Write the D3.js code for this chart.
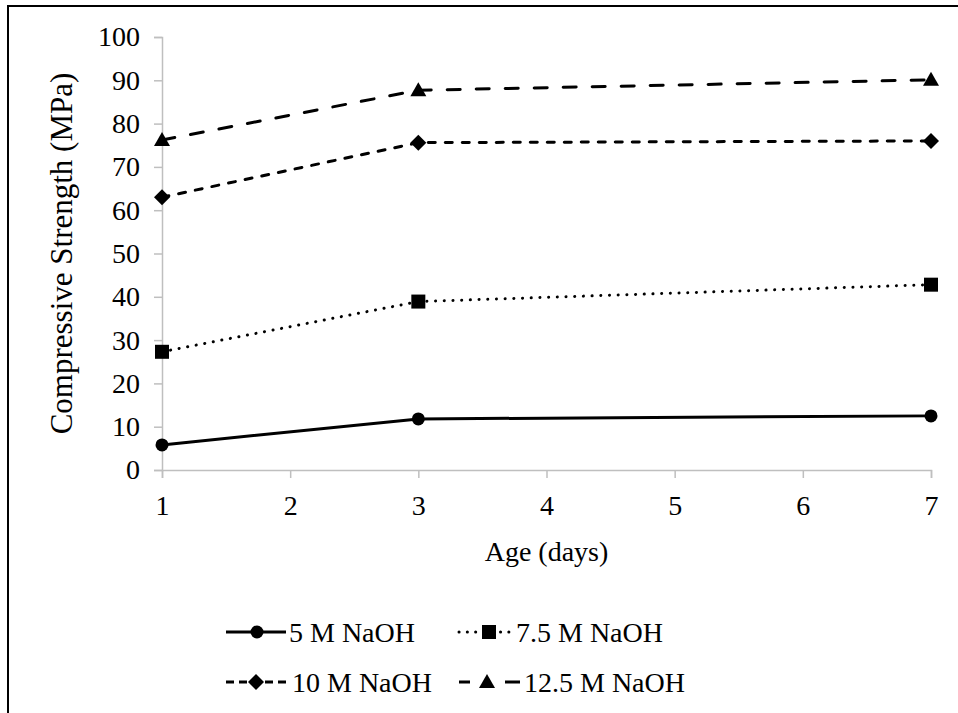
<!DOCTYPE html>
<html>
<head>
<meta charset="utf-8">
<script src="https://cdn.jsdelivr.net/npm/d3@7"></script>
<style>
  html, body { margin: 0; padding: 0; background: #fff; }
  svg { display: block; }
</style>
</head>
<body>
<svg id="chart" width="958" height="713"></svg>
<script>
const days = [1, 3, 7];
const xTicks = [1, 2, 3, 4, 5, 6, 7];
const yTicks = [0, 10, 20, 30, 40, 50, 60, 70, 80, 90, 100];
const seriesNames = ["5 M NaOH", "7.5 M NaOH", "10 M NaOH", "12.5 M NaOH"];
const naoh5 = [5.8, 11.8, 12.5];
const naoh75 = [27.3, 38.9, 42.8];
const naoh10 = [63.0, 75.6, 76.0];
const naoh125 = [76.2, 87.7, 90.1];

const seriesValues = [naoh5, naoh75, naoh10, naoh125];
const FONT = "Liberation Serif";
const FS = 28;
const styles = [
  { dash: null, marker: "circle" },
  { dash: "0.1,8.6", marker: "square" },
  { dash: "7,10", marker: "diamond" },
  { dash: "13,16", marker: "triangle" }
];

const svg = d3.select("#chart");

// outer frame (left & top edges visible)
svg.append("line").attr("x1", 8).attr("x2", 8).attr("y1", 5).attr("y2", 713)
  .attr("stroke", "#000").attr("stroke-width", 2);
svg.append("line").attr("x1", 7).attr("x2", 958).attr("y1", 6).attr("y2", 6)
  .attr("stroke", "#000").attr("stroke-width", 2);

const x = d3.scaleLinear().domain([1, 7]).range([162, 931]);
const y = d3.scaleLinear().domain([0, 100]).range([470, 37]);

// y axis
const yAxis = svg.append("g").attr("transform", `translate(${x(1)},0)`)
  .call(d3.axisLeft(y).tickValues(yTicks).tickFormat(d3.format("d")).tickSize(8).tickPadding(14));
// x axis
const xAxis = svg.append("g").attr("transform", `translate(0,${y(0)})`)
  .call(d3.axisBottom(x).tickValues(xTicks).tickFormat(d3.format("d")).tickSize(8).tickPadding(17));

[yAxis, xAxis].forEach(g => {
  g.attr("font-family", FONT).attr("font-size", FS);
  g.select(".domain").attr("stroke", "#bfbfbf").attr("stroke-width", 1.5);
  g.selectAll(".tick line").attr("stroke", "#bfbfbf").attr("stroke-width", 1.5);
  g.selectAll(".tick text").attr("fill", "#000");
});

// axis titles
svg.append("text").attr("x", x(4)).attr("y", 561).attr("text-anchor", "middle")
  .attr("font-family", FONT).attr("font-size", FS).text("Age (days)");
svg.append("text").attr("transform", `translate(72,${(y(0) + y(100)) / 2}) rotate(-90)`)
  .attr("text-anchor", "middle").attr("font-family", FONT).attr("font-size", 31)
  .text("Compressive Strength (MPa)");

function drawMarker(g, type, cx, cy) {
  if (type === "circle") {
    g.append("circle").attr("cx", cx).attr("cy", cy).attr("r", 6.5).attr("fill", "#000");
  } else if (type === "square") {
    g.append("rect").attr("x", cx - 7).attr("y", cy - 7).attr("width", 14).attr("height", 14).attr("fill", "#000");
  } else if (type === "diamond") {
    g.append("path").attr("d", `M${cx},${cy - 8}L${cx + 8},${cy}L${cx},${cy + 8}L${cx - 8},${cy}Z`).attr("fill", "#000");
  } else if (type === "triangle") {
    g.append("path").attr("d", `M${cx},${cy - 8}L${cx + 8},${cy + 6}L${cx - 8},${cy + 6}Z`).attr("fill", "#000");
  }
}

const line = d3.line().x((d, i) => x(days[i])).y(d => y(d));

seriesValues.forEach((vals, si) => {
  const st = styles[si];
  const g = svg.append("g");
  const p = g.append("path").attr("d", line(vals)).attr("fill", "none")
    .attr("stroke", "#000").attr("stroke-width", 3)
    .attr("stroke-linecap", st.dash ? "round" : "butt");
  if (st.dash) p.attr("stroke-dasharray", st.dash);
  vals.forEach((v, i) => drawMarker(g, st.marker, x(days[i]), y(v)));
});

// legend
const legendItems = [
  { x1: 226, x2: 286, mx: 257, ty: 632, tx: 289 },
  { x1: 459, x2: 513, mx: 489, ty: 632, tx: 516 },
  { x1: 226, x2: 288, mx: 256, ty: 682, tx: 292 },
  { x1: 459, x2: 521, mx: 487, ty: 682, tx: 524 }
];
const legendDash = [null, "0.1,8.2", "8,5", "11,35,15"];
const legendCap = ["butt", "round", "butt", "butt"];
legendItems.forEach((it, si) => {
  const st = styles[si];
  const g = svg.append("g");
  const l = g.append("line").attr("x1", it.x1).attr("x2", it.x2).attr("y1", it.ty).attr("y2", it.ty)
    .attr("stroke", "#000").attr("stroke-width", 3)
    .attr("stroke-linecap", legendCap[si]);
  if (legendDash[si]) l.attr("stroke-dasharray", legendDash[si]);
  drawMarker(g, st.marker, it.mx, it.ty);
  g.append("text").attr("x", it.tx).attr("y", it.ty).attr("dy", "0.35em")
    .attr("font-family", FONT).attr("font-size", FS).text(seriesNames[si]);
});
</script>
</body>
</html>
